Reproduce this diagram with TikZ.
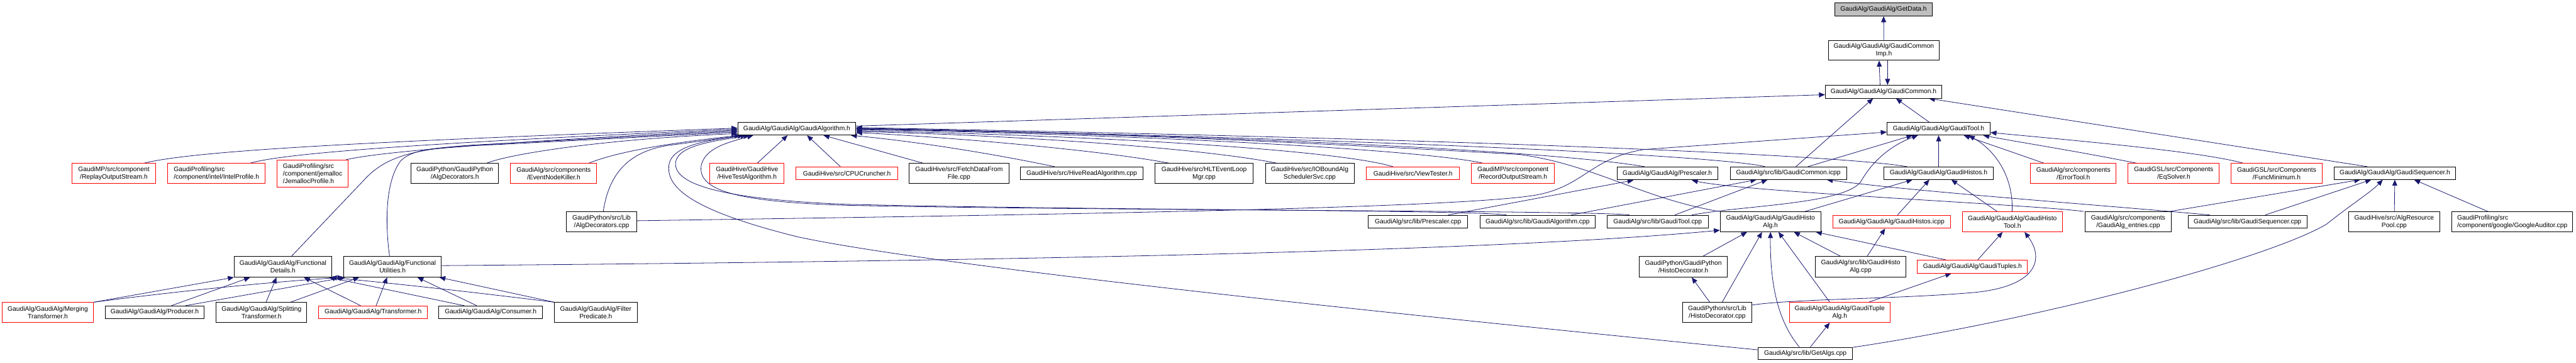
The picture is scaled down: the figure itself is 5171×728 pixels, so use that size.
\documentclass[tikz,border=0pt]{standalone}
\usepackage{fontspec}
\setmainfont{Liberation Sans}
\usetikzlibrary{arrows.meta}
\definecolor{edgec}{HTML}{191970}
\definecolor{grayfill}{HTML}{BFBFBF}
\pgfdeclarelayer{back}
\pgfdeclarelayer{bg}
\pgfsetlayers{back,bg,main}
\newcommand\bx[7]{\node[#6, minimum width={(#4-#2)*1pt}, minimum height={(#5-#3)*1pt}] (#1) at ({(#2+#4)/2},{-(#3+#5)/2}) {#7};}
\tikzset{
  nb/.style={draw=black, line width=1.2pt, fill=white, inner sep=0pt, align=center, font=\fontsize{13}{15}\selectfont},
  nr/.style={nb, draw=red},
  ng/.style={nb, fill=grayfill},
  nl/.style={nb, align=left},
  nlr/.style={nr, align=left},
  dep/.style={draw=edgec, line width=1pt, -{Triangle[length=12pt,width=10pt]}, color=edgec}
}
\begin{document}
\begin{tikzpicture}[x=1pt,y=1pt]
\useasboundingbox (0,0) rectangle (5171,-728);
\begin{pgfonlayer}{back}
\fill[white] (0,0) rectangle (5171,-728);
\end{pgfonlayer}
% top
\bx{getdata}{3683}{6}{3879}{32}{ng}{GaudiAlg/GaudiAlg/GetData.h}
\bx{commonimp}{3670}{81}{3893}{121}{nb}{GaudiAlg/GaudiAlg/GaudiCommon\\Imp.h}
\bx{common}{3664}{171}{3898}{197}{nb}{GaudiAlg/GaudiAlg/GaudiCommon.h}
\bx{algorithm}{1481}{246}{1718}{271}{nb}{GaudiAlg/GaudiAlg/GaudiAlgorithm.h}
\bx{tool}{3788}{246}{3995}{271}{nb}{GaudiAlg/GaudiAlg/GaudiTool.h}
% row 3
\bx{replay}{145}{328}{312}{368}{nr}{GaudiMP/src/component\\/ReplayOutputStream.h}
\bx{intel}{337}{328}{532}{368}{nlr}{GaudiProfiling/src\\/component/intel/IntelProfile.h}
\bx{jemalloc}{556}{321}{699}{375}{nlr}{GaudiProfiling/src\\/component/jemalloc\\/JemallocProfile.h}
\bx{algdech}{825}{328}{1001}{368}{nb}{GaudiPython/GaudiPython\\/AlgDecorators.h}
\bx{nodekiller}{1025}{328}{1198}{368}{nr}{GaudiAlg/src/components\\/EventNodeKiller.h}
\bx{hivetest}{1425}{328}{1574}{368}{nr}{GaudiHive/GaudiHive\\/HiveTestAlgorithm.h}
\bx{cpucruncher}{1598}{335}{1802}{361}{nr}{GaudiHive/src/CPUCruncher.h}
\bx{fetchdata}{1825}{328}{2025}{368}{nb}{GaudiHive/src/FetchDataFrom\\File.cpp}
\bx{hiveread}{2048}{335}{2295}{361}{nb}{GaudiHive/src/HiveReadAlgorithm.cpp}
\bx{hltevent}{2319}{328}{2515}{368}{nb}{GaudiHive/src/HLTEventLoop\\Mgr.cpp}
\bx{iobound}{2540}{328}{2718}{368}{nb}{GaudiHive/src/IOBoundAlg\\SchedulerSvc.cpp}
\bx{viewtester}{2743}{335}{2930}{361}{nr}{GaudiHive/src/ViewTester.h}
\bx{recordout}{2954}{328}{3120}{368}{nr}{GaudiMP/src/component\\/RecordOutputStream.h}
\bx{prescalerh}{3246}{335}{3448}{361}{nb}{GaudiAlg/GaudiAlg/Prescaler.h}
\bx{commonicpp}{3473}{335}{3707}{360}{nb}{GaudiAlg/src/lib/GaudiCommon.icpp}
\bx{histosh}{3782}{335}{4001}{360}{nb}{GaudiAlg/GaudiAlg/GaudiHistos.h}
\bx{errortool}{4076}{328}{4248}{368}{nr}{GaudiAlg/src/components\\/ErrorTool.h}
\bx{eqsolver}{4272}{328}{4455}{368}{nr}{GaudiGSL/src/Components\\/EqSolver.h}
\bx{funcmin}{4479}{328}{4661}{368}{nr}{GaudiGSL/src/Components\\/FuncMinimum.h}
\bx{sequencerh}{4686}{335}{4929}{360}{nb}{GaudiAlg/GaudiAlg/GaudiSequencer.h}
% row 4
\bx{algdeccpp}{1137}{425}{1278}{465}{nb}{GaudiPython/src/Lib\\/AlgDecorators.cpp}
\bx{prescalercpp}{2747}{432}{2946}{458}{nb}{GaudiAlg/src/lib/Prescaler.cpp}
\bx{algorithmcpp}{2971}{432}{3202}{458}{nb}{GaudiAlg/src/lib/GaudiAlgorithm.cpp}
\bx{toolcpp}{3226}{432}{3429}{458}{nb}{GaudiAlg/src/lib/GaudiTool.cpp}
\bx{histoalgh}{3453}{425}{3655}{465}{nb}{GaudiAlg/GaudiAlg/GaudiHisto\\Alg.h}
\bx{histosicpp}{3679}{432}{3915}{458}{nr}{GaudiAlg/GaudiAlg/GaudiHistos.icpp}
\bx{histotoolh}{3939}{425}{4140}{465}{nr}{GaudiAlg/GaudiAlg/GaudiHisto\\Tool.h}
\bx{entries}{4186}{425}{4358}{465}{nb}{GaudiAlg/src/components\\/GaudiAlg\_entries.cpp}
\bx{sequencercpp}{4392}{432}{4631}{458}{nb}{GaudiAlg/src/lib/GaudiSequencer.cpp}
\bx{algpool}{4714}{425}{4898}{465}{nb}{GaudiHive/src/AlgResource\\Pool.cpp}
\bx{google}{4922}{425}{5164}{465}{nl}{GaudiProfiling/src\\/component/google/GoogleAuditor.cpp}
% row 5
\bx{fdetails}{470}{515}{666}{556}{nb}{GaudiAlg/GaudiAlg/Functional\\Details.h}
\bx{futils}{690}{515}{886}{556}{nb}{GaudiAlg/GaudiAlg/Functional\\Utilities.h}
\bx{histodech}{3291}{515}{3467}{556}{nb}{GaudiPython/GaudiPython\\/HistoDecorator.h}
\bx{histoalgcpp}{3644}{515}{3826}{556}{nb}{GaudiAlg/src/lib/GaudiHisto\\Alg.cpp}
\bx{tuplesh}{3849}{522}{4070}{548}{nr}{GaudiAlg/GaudiAlg/GaudiTuples.h}
% row 6
\bx{merging}{4}{607}{188}{647}{nr}{GaudiAlg/GaudiAlg/Merging\\Transformer.h}
\bx{producer}{211}{614}{410}{639}{nb}{GaudiAlg/GaudiAlg/Producer.h}
\bx{splitting}{434}{607}{616}{647}{nb}{GaudiAlg/GaudiAlg/Splitting\\Transformer.h}
\bx{transformer}{640}{614}{858}{639}{nr}{GaudiAlg/GaudiAlg/Transformer.h}
\bx{consumer}{881}{614}{1089}{639}{nb}{GaudiAlg/GaudiAlg/Consumer.h}
\bx{filterpred}{1113}{607}{1279}{647}{nb}{GaudiAlg/GaudiAlg/Filter\\Predicate.h}
\bx{histodeccpp}{3377}{607}{3517}{647}{nb}{GaudiPython/src/Lib\\/HistoDecorator.cpp}
\bx{tuplealg}{3592}{607}{3794}{647}{nr}{GaudiAlg/GaudiAlg/GaudiTuple\\Alg.h}
% row 7
\bx{getalgs}{3529}{697}{3719}{722}{nb}{GaudiAlg/src/lib/GetAlgs.cpp}

\begin{pgfonlayer}{bg}
% top chain
\draw[dep] (commonimp) -- (getdata);
\draw[dep] (common.north -| 3774,0) -- (commonimp.south -| 3772,0);
\draw[dep] (commonimp.south -| 3789,0) -- (common.north -| 3789,0);
\draw[dep] (algorithm.east |- 0,-253) -- (common.west |- 0,-190);
\draw[dep] (commonicpp.north -| 3605,0) -- (common.south -| 3760,0);
\draw[dep] (tool.north -| 3873,0) -- (common.south -| 3806,0);
\draw[dep] (sequencerh.north -| 4752,0) -- (common.south -| 3872,0);
% into GaudiTool.h
\draw[dep] (algdeccpp.east |- 0,-443) .. controls (2000,-432) and (2900,-420) .. (3080,-392) .. controls (3180,-375) and (3190,-318) .. (3300,-300) -- (tool.west |- 0,-265);
\draw[dep] (commonicpp.north -| 3629,0) -- (tool.south -| 3839,0);
\draw[dep] (toolcpp.north -| 3396,0) .. controls (3500,-412) and (3700,-410) .. (3735,-365) .. controls (3760,-320) and (3800,-290) .. (tool.south -| 3850,0);
\draw[dep] (histosh) -- (tool);
\draw[dep] (errortool.north -| 4103,0) -- (tool.south -| 3942,0);
\draw[dep] (histotoolh.north -| 4039,0) .. controls (4042,-360) and (4010,-305) .. (tool.south -| 3952,0);
\draw[dep] (eqsolver.north -| 4289,0) .. controls (4150,-300) and (4050,-285) .. (tool.south -| 3981,0);
\draw[dep] (funcmin.north -| 4503,0) .. controls (4420,-305) and (4200,-285) .. (tool.east |- 0,-266);
% into GaudiAlgorithm.h : left side
\draw[dep] (replay.north -| 289,0) .. controls (400,-300) and (800,-282) .. (algorithm.west |- 0,-257);
\draw[dep] (intel.north -| 502,0) .. controls (580,-305) and (900,-285) .. (algorithm.west |- 0,-259);
\draw[dep] (jemalloc.north -| 695,0) .. controls (760,-305) and (1000,-285) .. (algorithm.west |- 0,-261);
\draw[dep] (fdetails.north -| 585,0) -- (730,-362) .. controls (770,-318) and (820,-300) .. (950,-291) -- (algorithm.west |- 0,-263);
\draw[dep] (futils.north -| 782,0) .. controls (772,-440) and (775,-360) .. (805,-322) .. controls (830,-298) and (880,-295) .. (1000,-290) -- (algorithm.west |- 0,-265);
\draw[dep] (algdech.north -| 977,0) .. controls (1020,-310) and (1200,-280) .. (algorithm.west |- 0,-268);
% bottom
\draw[dep] (nodekiller.north -| 1182,0) .. controls (1250,-300) and (1380,-283) .. (algorithm.south -| 1486,0);
\draw[dep] (algdeccpp.north -| 1211,0) .. controls (1222,-350) and (1260,-305) .. (1340,-292) -- (algorithm.south -| 1493,0);
\draw[dep] (getalgs.west |- 0,-702) .. controls (3000,-650) and (1900,-540) .. (1600,-475) .. controls (1400,-425) and (1335,-380) .. (1343,-330) .. controls (1350,-290) and (1430,-280) .. (algorithm.south -| 1499,0);
\draw[dep] (algorithmcpp.north -| 3024,0) .. controls (2950,-421) and (2200,-422) .. (1700,-410) .. controls (1450,-400) and (1345,-370) .. (1357,-322) .. controls (1367,-290) and (1440,-282) .. (algorithm.south -| 1505,0);
\draw[dep] (toolcpp.north -| 3271,0) .. controls (3200,-422) and (2200,-423) .. (1700,-412) .. controls (1470,-405) and (1398,-380) .. (1408,-330) .. controls (1418,-295) and (1465,-285) .. (algorithm.south -| 1512,0);
\draw[dep] (hivetest.north -| 1520,0) -- (algorithm.south -| 1581,0);
\draw[dep] (cpucruncher.north -| 1687,0) -- (algorithm.south -| 1620,0);
\draw[dep] (fetchdata.north -| 1853,0) -- (algorithm.south -| 1653,0);
\draw[dep] (hiveread.north -| 2117,0) .. controls (2000,-310) and (1850,-285) .. (algorithm.south -| 1708,0);
% right side
\draw[dep] (hltevent.north -| 2347,0) .. controls (2200,-300) and (1900,-275) .. (algorithm.east |- 0,-266);
\draw[dep] (iobound.north -| 2563,0) .. controls (2400,-295) and (2000,-270) .. (algorithm.east |- 0,-264);
\draw[dep] (viewtester.north -| 2796,0) .. controls (2700,-305) and (2300,-275) .. (algorithm.east |- 0,-262);
\draw[dep] (recordout.north -| 2977,0) .. controls (2850,-300) and (2300,-270) .. (algorithm.east |- 0,-260);
\draw[dep] (prescalerh.north -| 3301,0) .. controls (3100,-300) and (2400,-270) .. (algorithm.east |- 0,-259);
\draw[dep] (histoalgh.north west) .. controls (3300,-400) and (3200,-330) .. (3050,-310) .. controls (2700,-290) and (2200,-265) .. (algorithm.east |- 0,-258);
\draw[dep] (commonicpp.north -| 3543,0) .. controls (3480,-318) and (3000,-285) .. (algorithm.east |- 0,-257);
\draw[dep] (histosh.north -| 3828,0) .. controls (3700,-312) and (3000,-280) .. (algorithm.east |- 0,-256);
% into GaudiHistoAlg.h
\draw[dep] (futils.east |- 0,-533) .. controls (2000,-524) and (3000,-505) .. (histoalgh.west |- 0,-462);
\draw[dep] (histodech.north -| 3418,0) -- (histoalgh.south -| 3507,0);
\draw[dep] (histodeccpp.north -| 3457,0) -- (histoalgh.south -| 3537,0);
\draw[dep] (getalgs.north -| 3612,0) .. controls (3565,-640) and (3553,-560) .. (histoalgh.south -| 3554,0);
\draw[dep] (tuplealg.north -| 3673,0) -- (histoalgh.south -| 3570,0);
\draw[dep] (histoalgcpp.north -| 3695,0) -- (histoalgh.south -| 3601,0);
\draw[dep] (tuplesh.north -| 3906,0) -- (histoalgh.south -| 3645,0);
% histos
\draw[dep] (histoalgh.north -| 3623,0) -- (histosh.south -| 3839,0);
\draw[dep] (histosicpp.north -| 3809,0) -- (histosh.south -| 3873,0);
\draw[dep] (histotoolh.north -| 4009,0) -- (histosh.south -| 3917,0);
\draw[dep] (histoalgcpp.north -| 3748,0) -- (histosicpp.south -| 3784,0);
% common.icpp
\draw[dep] (algorithmcpp.north -| 3154,0) -- (commonicpp.south -| 3526,0);
\draw[dep] (toolcpp.north -| 3362,0) -- (commonicpp.south -| 3548,0);
\draw[dep] (sequencercpp.north -| 4436,0) .. controls (4200,-410) and (3850,-385) .. (commonicpp.south -| 3667,0);
% prescaler
\draw[dep] (prescalercpp.north -| 2907,0) -- (prescalerh.south -| 3279,0);
\draw[dep] (entries.north -| 4183,0) .. controls (4100,-412) and (3500,-385) .. (prescalerh.south -| 3396,0);
% sequencer
\draw[dep] (entries.north -| 4355,0) -- (sequencerh.south -| 4738,0);
\draw[dep] (sequencercpp.north -| 4547,0) -- (sequencerh.south -| 4760,0);
\draw[dep] (getalgs.east |- 0,-697) .. controls (4100,-640) and (4550,-520) .. (4670,-450) .. controls (4720,-410) and (4760,-385) .. (sequencerh.south -| 4783,0);
\draw[dep] (algpool) -- (sequencerh);
\draw[dep] (google.north -| 4994,0) -- (sequencerh.south -| 4846,0);
% histo decorators, tuples
\draw[dep] (histodeccpp.north -| 3432,0) -- (histodech.south -| 3396,0);
\draw[dep] (histodeccpp.east |- 0,-612) .. controls (3600,-600) and (3800,-600) .. (3950,-588) .. controls (4090,-578) and (4105,-520) .. (histotoolh.south -| 4064,0);
\draw[dep] (getalgs.north -| 3634,0) -- (tuplealg.south -| 3673,0);
\draw[dep] (tuplealg.north -| 3751,0) -- (tuplesh.south -| 3917,0);
\draw[dep] (tuplesh.north -| 3970,0) -- (histotoolh.south -| 4020,0);
% functional
\draw[dep] (merging.north east) -- (fdetails.south west);
\draw[dep] (merging.north east) .. controls (350,-585) and (550,-565) .. (futils.south west);
\draw[dep] (producer.north -| 344,0) -- (fdetails.south -| 502,0);
\draw[dep] (producer.north -| 372,0) -- (futils.south -| 693,0);
\draw[dep] (splitting.north -| 534,0) -- (fdetails.south -| 555,0);
\draw[dep] (splitting.north -| 583,0) -- (futils.south -| 721,0);
\draw[dep] (transformer.north -| 724,0) -- (fdetails.south -| 610,0);
\draw[dep] (transformer.north -| 755,0) -- (futils.south -| 777,0);
\draw[dep] (consumer.north -| 932,0) -- (fdetails.south -| 660,0);
\draw[dep] (consumer.north -| 957,0) -- (futils.south -| 838,0);
\draw[dep] (filterpred.north west) .. controls (900,-580) and (750,-565) .. (fdetails.south -| 664,0);
\draw[dep] (filterpred.north west) -- (futils.south -| 882,0);
\end{pgfonlayer}
\end{tikzpicture}
\end{document}
